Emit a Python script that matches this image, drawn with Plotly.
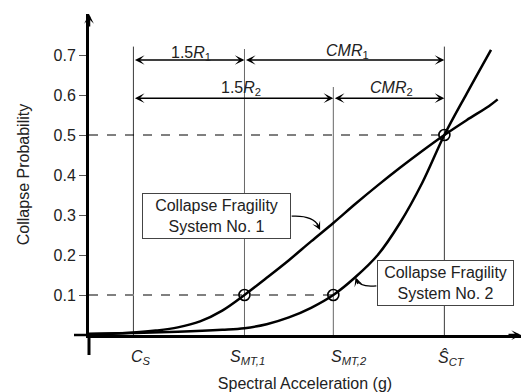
import plotly.graph_objects as go

# ---- data -------------------------------------------------------------
# spectral intensity levels marked on the horizontal axis (g, schematic)
level_names = ["C_S", "S_MT,1", "S_MT,2", "S_CT"]
level_labels = ["<i>C<sub>S</sub></i>", "<i>S<sub>MT,1</sub></i>",
                "<i>S<sub>MT,2</sub></i>", "<i>Ŝ<sub>CT</sub></i>"]
level_values = [0.4, 1.4, 2.2, 3.2]

# collapse fragility, system no. 1
sa_sys1 = [0.0, 0.2, 0.4, 0.6, 0.8, 1.0, 1.2, 1.4, 1.6, 1.8, 2.0, 2.2,
           2.4, 2.6, 2.8, 3.0, 3.2, 3.4, 3.6, 3.68]
p_sys1 = [0.002, 0.003, 0.006, 0.011, 0.019, 0.034, 0.061, 0.100, 0.143,
          0.187, 0.234, 0.280, 0.328, 0.374, 0.418, 0.460, 0.500, 0.537,
          0.572, 0.589]

# collapse fragility, system no. 2
sa_sys2 = [0.0, 0.4, 0.8, 1.2, 1.4, 1.6, 1.8, 2.0, 2.2, 2.4, 2.6, 2.8,
           3.0, 3.2, 3.4, 3.62]
p_sys2 = [0.003, 0.005, 0.008, 0.013, 0.017, 0.027, 0.044, 0.068, 0.100,
          0.145, 0.200, 0.280, 0.380, 0.500, 0.603, 0.713]

# probability levels marked on the curves
p_target_low = 0.1
p_target_mid = 0.5

y_ticks = [0.1, 0.2, 0.3, 0.4, 0.5, 0.6, 0.7]

# ---- layout constants ------------------------------------------------
FONT = "Liberation Sans, Arial, sans-serif"
FS = 16
TXT = "#222222"
X_MAX = 3.89
Y_MAX = 0.8025

c_s, s_mt1, s_mt2, s_ct = level_values
row1 = 0.6875   # height of the R / CMR dimension lines (system 1)
row2 = 0.592    # height of the R / CMR dimension lines (system 2)

fig = go.Figure()

# fragility curves
for sa, p in ((sa_sys1, p_sys1), (sa_sys2, p_sys2)):
    fig.add_trace(go.Scatter(x=sa, y=p, mode="lines",
                             line=dict(color="black", width=2.5, shape="spline"),
                             hoverinfo="skip", showlegend=False))

# marked points
fig.add_trace(go.Scatter(x=[s_mt1, s_mt2, s_ct],
                         y=[p_target_low, p_target_low, p_target_mid],
                         mode="markers",
                         marker=dict(symbol="circle-open", size=11, color="black",
                                     line=dict(color="black", width=1.6)),
                         hoverinfo="skip", showlegend=False))

shapes = []
# vertical reference lines
tops = [0.721, 0.715, 0.62, 0.721]
vcols = ["#3a3a3a", "#666666", "#666666", "#3a3a3a"]
for xv, top, col in zip(level_values, tops, vcols):
    shapes.append(dict(type="line", xref="x", yref="y", x0=xv, x1=xv,
                       y0=0, y1=top, line=dict(color=col, width=1), layer="below"))

# dashed guides
shapes.append(dict(type="line", xref="x", yref="y", x0=0, x1=s_ct,
                   y0=p_target_mid, y1=p_target_mid,
                   line=dict(color="black", width=1, dash="dash"), layer="below"))
shapes.append(dict(type="line", xref="x", yref="y", x0=0, x1=s_mt2,
                   y0=p_target_low, y1=p_target_low,
                   line=dict(color="#808080", width=1.8, dash="dash"), layer="below"))

# axis extensions past the origin
shapes.append(dict(type="line", xref="paper", yref="paper",
                   x0=-15 / 432, x1=0, y0=0, y1=0,
                   line=dict(color="black", width=2.5)))
shapes.append(dict(type="line", xref="paper", yref="paper",
                   x0=0, x1=0, y0=-20 / 321, y1=0,
                   line=dict(color="black", width=3)))

# curved leaders from the callout boxes
shapes.append(dict(type="path", xref="x", yref="y",
                   path="M 1.825,0.297 Q 2.012,0.300 2.070,0.272",
                   line=dict(color="black", width=1.3)))
shapes.append(dict(type="path", xref="x", yref="y",
                   path="M 2.588,0.123 Q 2.440,0.118 2.408,0.140",
                   line=dict(color="black", width=1.3)))

annotations = []


def dim_arrow(x0, x1, y):
    annotations.append(dict(x=x1, y=y, ax=x0, ay=y, xref="x", yref="y",
                            axref="x", ayref="y", text="", showarrow=True,
                            arrowside="end+start", arrowhead=3, arrowsize=1.15,
                            arrowwidth=1.4, arrowcolor="black", standoff=0,
                            startstandoff=0))


for x0, x1, yv in [(c_s, s_mt1, row1), (s_mt1, s_ct, row1),
                   (c_s, s_mt2, row2), (s_mt2, s_ct, row2)]:
    dim_arrow(x0, x1, yv)


def label(x, y, text, **kw):
    annotations.append(dict(x=x, y=y, xref="x", yref="y", text=text,
                            showarrow=False, font=dict(family=FONT, size=FS, color=TXT),
                            **kw))


label((c_s + s_mt1) / 2 + 0.02, row1 + 0.017, "1.5<i>R</i><sub>1</sub>")
label((s_mt1 + s_ct) / 2 + 0.03, row1 + 0.022, "<i>CMR</i><sub>1</sub>")
label((c_s + s_mt2) / 2 + 0.07, row2 + 0.025, "1.5<i>R</i><sub>2</sub>")
label((s_mt2 + s_ct) / 2 + 0.02, row2 + 0.025, "<i>CMR</i><sub>2</sub>")

# labels of the marked intensity levels along the horizontal axis
x_shift = {"C_S": 8, "S_MT,1": 3, "S_MT,2": 16, "S_CT": 7}
for name, lab, xv in zip(level_names, level_labels, level_values):
    annotations.append(dict(x=xv, y=0, xref="x", yref="y", text=lab,
                            showarrow=False, yanchor="top", yshift=-11,
                            xshift=x_shift[name],
                            font=dict(family=FONT, size=FS, color=TXT)))

# callout boxes
for xc, yc, w, h, txt in ((1.149, 0.2975, 147, 44, "Collapse Fragility<br>System No. 1"),
                          (3.213, 0.1305, 135, 44, "Collapse Fragility<br>System No. 2")):
    annotations.append(dict(x=xc, y=yc, xref="x", yref="y", text=txt,
                            showarrow=False, width=w, height=h, borderpad=0,
                            bordercolor="#444444", borderwidth=1, bgcolor="white",
                            font=dict(family=FONT, size=FS, color=TXT)))

# arrowheads of the leaders
annotations.append(dict(x=2.081, y=0.2625, xref="x", yref="y", ax=-4, ay=-8,
                        text="", showarrow=True, arrowhead=3, arrowsize=1.1,
                        arrowwidth=1.3, arrowcolor="black", standoff=0))
annotations.append(dict(x=2.400, y=0.1435, xref="x", yref="y", ax=3, ay=8,
                        text="", showarrow=True, arrowhead=3, arrowsize=1.1,
                        arrowwidth=1.3, arrowcolor="black", standoff=0))

# axis arrowheads
annotations.append(dict(x=0, y=1, xref="paper", yref="paper", ax=0, ay=14,
                        text="", showarrow=True, arrowhead=3, arrowsize=0.65,
                        arrowwidth=2.5, arrowcolor="black", standoff=0))
annotations.append(dict(x=1, y=0, xref="paper", yref="paper", ax=-14, ay=0,
                        text="", showarrow=True, arrowhead=3, arrowsize=0.65,
                        arrowwidth=2.5, arrowcolor="black", standoff=0))

fig.update_layout(
    width=523, height=392,
    margin=dict(l=89, r=2, t=14, b=57),
    paper_bgcolor="white", plot_bgcolor="white",
    font=dict(family=FONT, size=FS, color=TXT),
    shapes=shapes, annotations=annotations,
    showlegend=False,
    xaxis=dict(range=[0, X_MAX], showgrid=False, zeroline=False,
               showline=True, linecolor="black", linewidth=2.5,
               showticklabels=False, ticks="",
               title=dict(text="Spectral Acceleration (g)", standoff=42,
                          font=dict(family=FONT, size=FS, color=TXT))),
    yaxis=dict(range=[0, Y_MAX], showgrid=False, zeroline=False,
               showline=True, linecolor="black", linewidth=3,
               tickvals=y_ticks, ticktext=[f"{v:.1f}" for v in y_ticks],
               ticks="outside", ticklen=7, tickwidth=1, tickcolor="#555555",
               tickfont=dict(family=FONT, size=FS, color=TXT),
               title=dict(text="Collapse Probability", standoff=20,
                          font=dict(family=FONT, size=FS, color=TXT))),
)

fig.write_html("out.html")
